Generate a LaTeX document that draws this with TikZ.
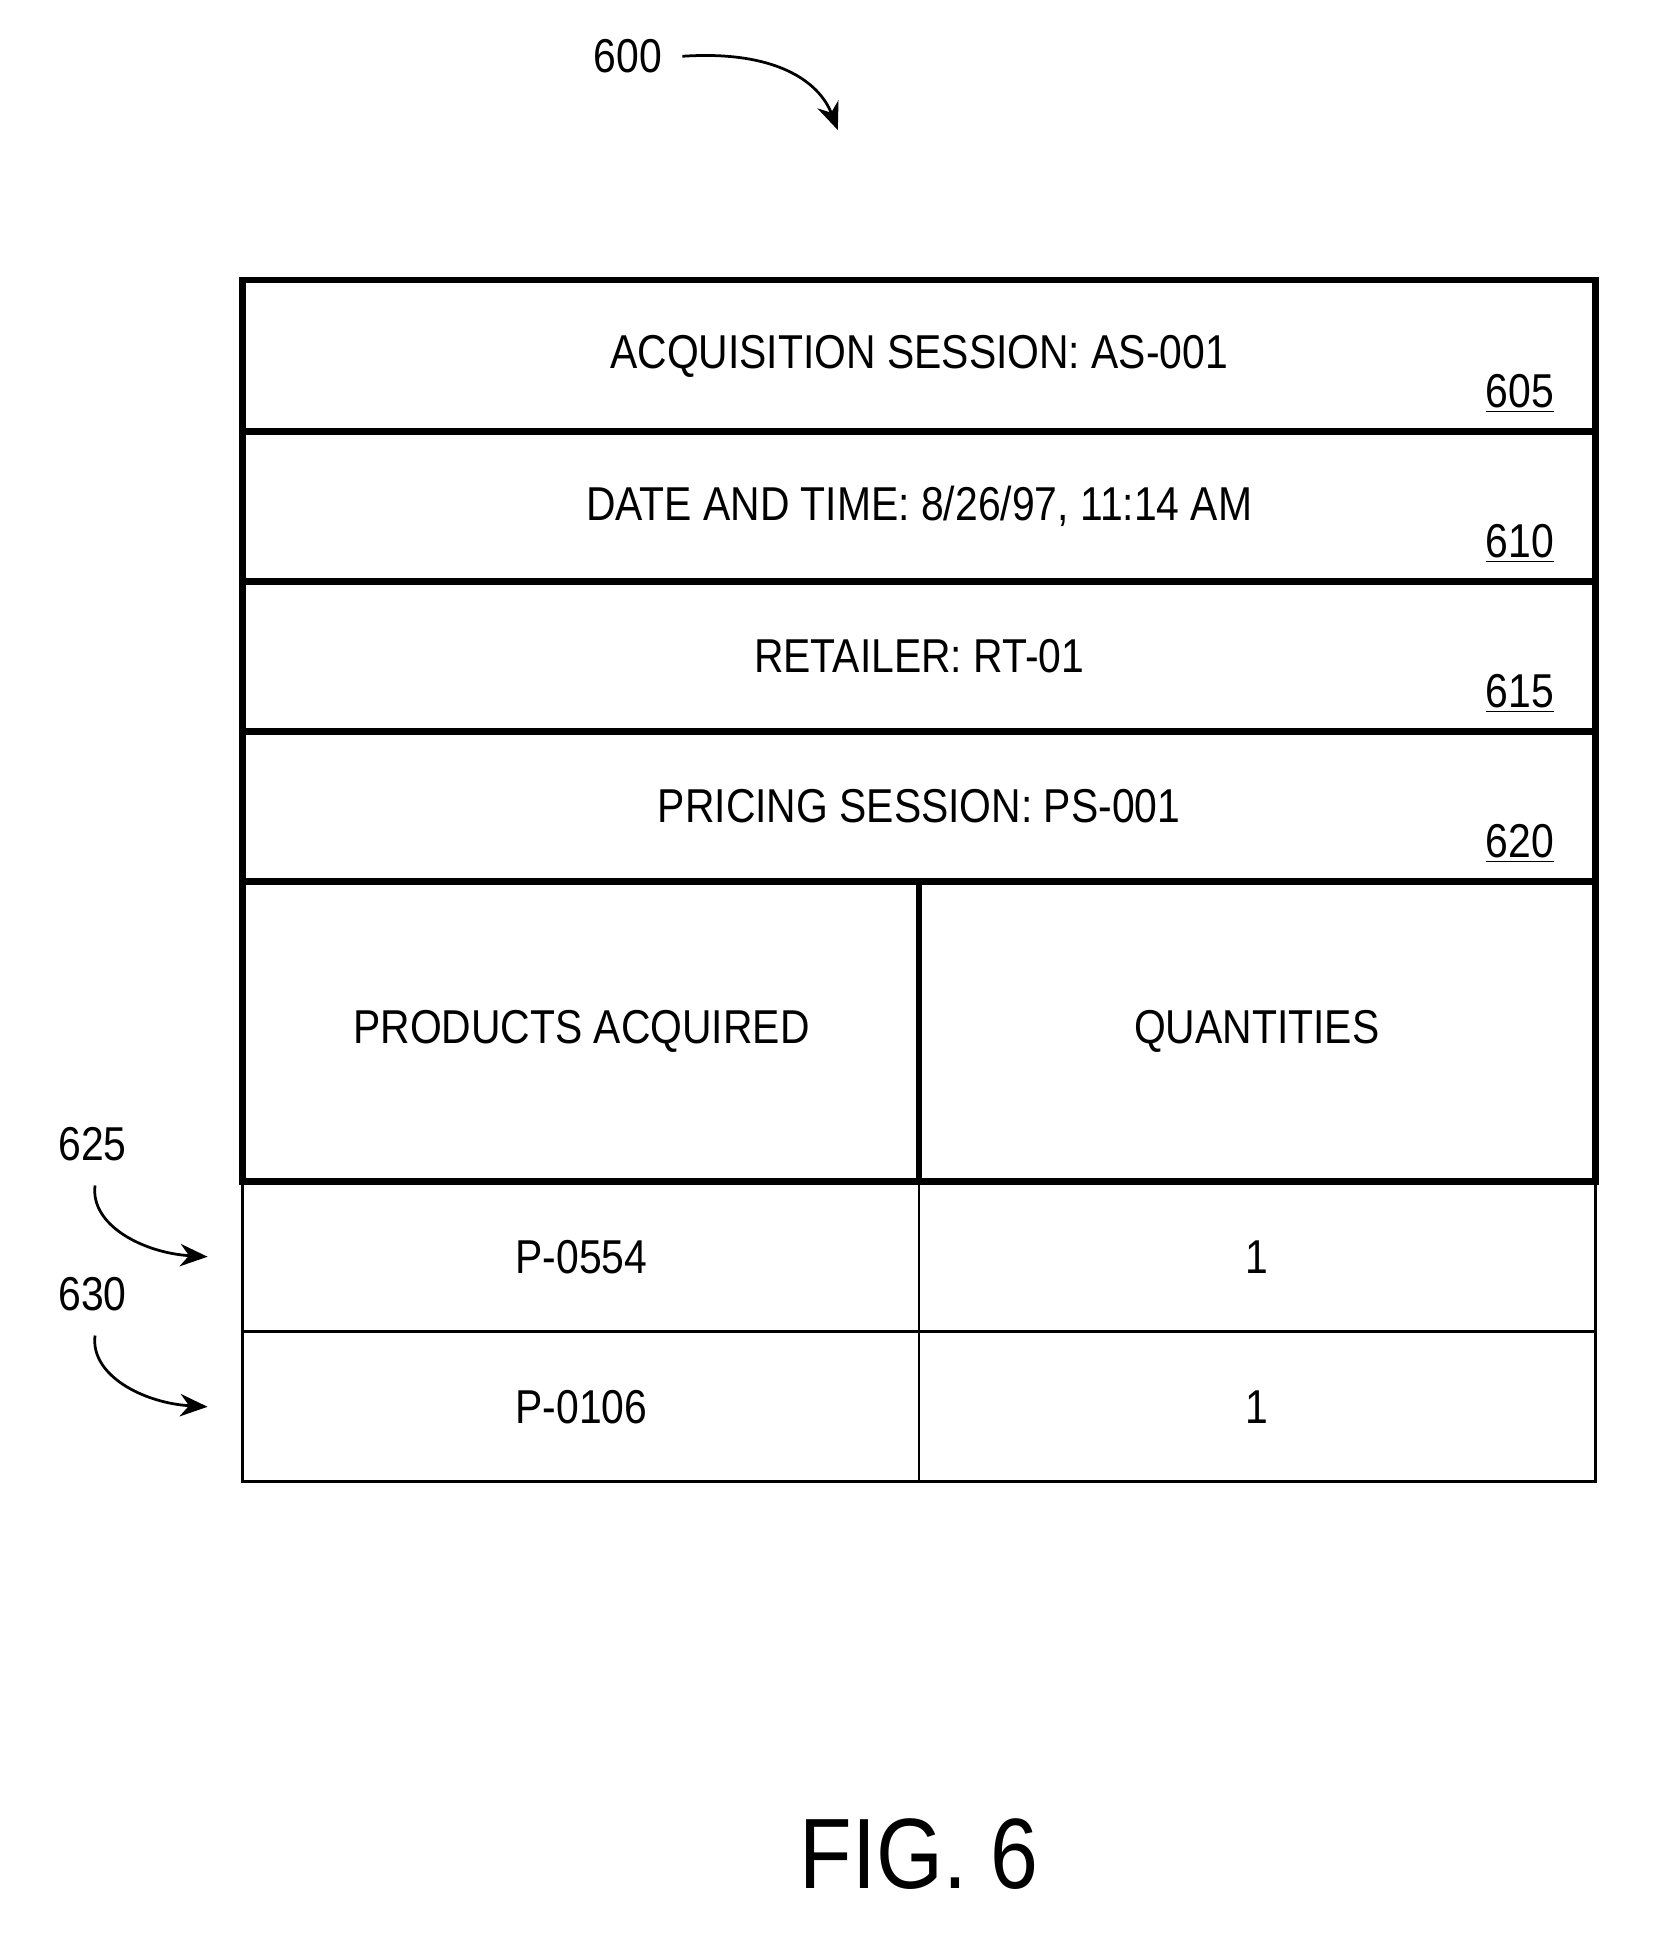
\documentclass[tikz,border=0pt]{standalone}
\usepackage{fontspec}
\setmainfont{Liberation Sans}[FakeStretch=0.86]
\usetikzlibrary{arrows.meta}
\begin{document}
\begin{tikzpicture}[x=0.5pt,y=-0.5pt,
  thick line/.style={line width=2.7pt},
  thin line/.style={line width=1.1pt},
  txt/.style={font=\fontsize{19}{22}\selectfont, inner sep=0pt},
  ref/.style={font=\fontsize{19}{22}\selectfont, inner sep=0pt, anchor=east},
  lbl/.style={font=\fontsize{19}{22}\selectfont, inner sep=0pt},
  arr/.style={line width=1.1pt, -{Stealth[length=11pt,width=9pt]}}]
\useasboundingbox (0,0) rectangle (1330,1565);
% thin lower part
\draw[thin line] (194,945) -- (194,1185) -- (1276,1185) -- (1276,945);
\draw[thin line] (194,1065) -- (1276,1065);
\draw[thin line] (735,945) -- (735,1185);
% thick upper part
\draw[thick line] (194,945) -- (194,224) -- (1276,224) -- (1276,945) -- cycle;
\foreach \y in {345,465,585,705} \draw[thick line] (194,\y) -- (1276,\y);
\draw[thick line] (735,705) -- (735,945);
% texts
\node[txt] (t605) at (735,285) {ACQUISITION SESSION: AS-001};
\node[txt] (t610) at (735,405) {DATE AND TIME: 8/26/97, 11:14 AM};
\node[txt] (t615) at (735,525) {RETAILER: RT-01};
\node[txt] (t620) at (735,645) {PRICING SESSION: PS-001};
\node[ref] (r605) at (1243,315) {\underline{605}};
\node[ref] (r610) at (1243,435) {\underline{610}};
\node[ref] (r615) at (1243,555) {\underline{615}};
\node[ref] (r620) at (1243,675) {\underline{620}};
\node[txt] (h1) at (465,825) {PRODUCTS ACQUIRED};
\node[txt] (h2) at (1005,825) {QUANTITIES};
\node[txt] (p1) at (465,1005) {P-0554};
\node[txt] (q1) at (1005,1005) {1};
\node[txt] (p2) at (465,1125) {P-0106};
\node[txt] (q2) at (1005,1125) {1};
% labels and arrows
\node[lbl] (l600) at (502,45) {600};
\coordinate (e600) at (670,104);
\draw[arr] (l600.east) ++(8pt,0) .. controls (620,40) and (655,65) .. (e600);
\node[lbl] (l625) at (74,915) {625};
\coordinate (e625) at (166,1005);
\draw[arr] (76,948) .. controls (72,980) and (115,1002) .. (e625);
\node[lbl] (l630) at (74,1035) {630};
\coordinate (e630) at (166,1125);
\draw[arr] (76,1068) .. controls (72,1100) and (115,1122) .. (e630);
\node[inner sep=0pt, font=\fontsize{40}{46}\selectfont] (fig) at (735,1483) {FIG. 6};
\end{tikzpicture}
\end{document}
